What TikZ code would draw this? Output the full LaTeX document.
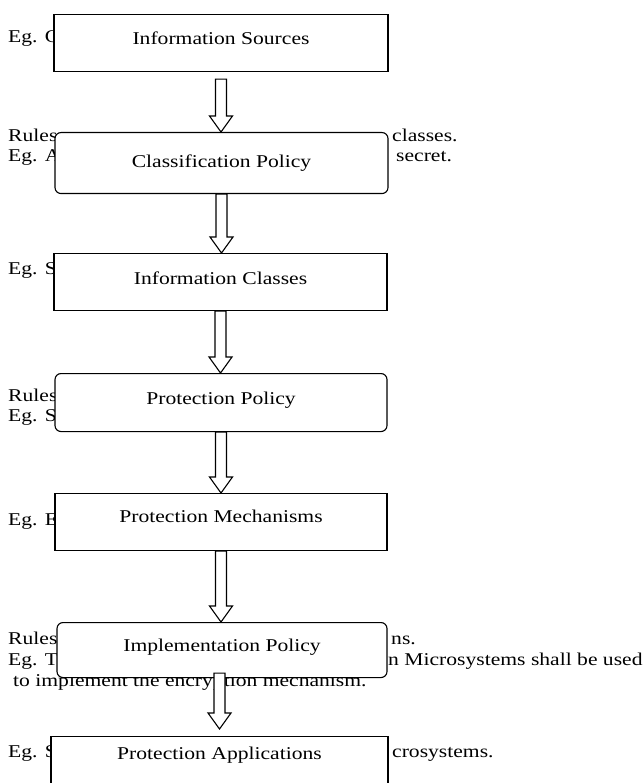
\documentclass[tikz,border=0pt]{standalone}
\usepackage{fontspec}
\setmainfont{Liberation Serif}[FakeStretch=1.2]
\usetikzlibrary{calc}

% hollow block arrow between two named points
\newcommand{\blockarrow}[2]{%
    \draw[arrowbody] let \p1=(#1), \p2=(#2) in
        (\x1-5.5pt,\y1) -- (\x1-5.5pt,\y2+16pt) -- (\x1-11.5pt,\y2+16pt) -- (\x1,\y2)
        -- (\x1+11.5pt,\y2+16pt) -- (\x1+5.5pt,\y2+16pt) -- (\x1+5.5pt,\y1) -- cycle;}

\begin{document}
\begin{tikzpicture}[x=1pt, y=-1pt,
    font=\fontsize{18}{20}\selectfont,
    stagebox/.style={draw, fill=white, line width=1.1pt, inner sep=0pt,
        anchor=north, text height=12.5pt, minimum height=57pt},
    roundbox/.style={stagebox, rounded corners=6pt},
    sidetext/.style={anchor=base west, inner sep=0pt},
    arrowbody/.style={draw, fill=white, line width=1.1pt, line join=miter}]
    \useasboundingbox (0,0) rectangle (644,783);
    \clip (0,0) rectangle (644,783);

    % Text behind the boxes
    \node[sidetext] (egsrc) at (8,43) {Eg. C};
    \node[sidetext] (rulescls) at (8,142) {Rules};
    \node[sidetext] (egcls) at (8,162) {Eg. A};
    \node[sidetext] (classes) at (392,142) {classes.};
    \node[sidetext] (secret) at (396,162) {secret.};
    \node[sidetext] (eginf) at (8,274) {Eg. S};
    \node[sidetext] (rulesprot) at (8,401) {Rules};
    \node[sidetext] (egprot) at (8,421) {Eg. S};
    \node[sidetext] (egmech) at (8,525) {Eg. E};
    \node[sidetext] (rulesimpl) at (8,644) {Rules};
    \node[sidetext] (ons) at (391,644) {ns.};
    \node[sidetext] (egimpl) at (8,665) {Eg. T};
    \node[sidetext] (micro) at (388,665) {n Microsystems shall be used};
    \node[sidetext] (toimpl) at (13,686) {to implement the encryption mechanism.};
    \node[sidetext] (egapp) at (8,757) {Eg. S};
    \node[sidetext] (crosys) at (392,757) {crosystems.};

    % Stages
    \node[stagebox, minimum width=334pt, text depth=9.5pt] (src) at (221,14) {Information Sources};
    \node[roundbox, minimum width=333pt, minimum height=61pt, text depth=3.5pt] (clspol) at (221.5,132) {Classification Policy};
    \node[stagebox, minimum width=333pt, text depth=7.5pt] (infcls) at (220.5,253) {Information Classes};
    \node[roundbox, minimum width=332pt, minimum height=58pt, text depth=8.5pt] (protpol) at (221,373) {Protection Policy};
    \node[stagebox, minimum width=332pt, text depth=11.5pt] (protmech) at (221,493) {Protection Mechanisms};
    \node[roundbox, minimum width=330pt, minimum height=55pt, text depth=10.5pt] (implpol) at (222,622) {Implementation Policy};
    \node[stagebox, minimum width=337pt, minimum height=60pt, text depth=26.5pt] (protapp) at (219.5,736) {Protection Applications};

    % Arrows
    \coordinate (srcout) at ([yshift=-7pt]src.south);
    \coordinate (implout) at ($(implpol.south -| protapp.north)+(0,-5)$);
    \coordinate (appin) at ([yshift=7pt]protapp.north);
    \blockarrow{srcout}{clspol.north}
    \blockarrow{clspol.south}{infcls.north}
    \blockarrow{infcls.south}{protpol.north}
    \blockarrow{protpol.south}{protmech.north}
    \blockarrow{protmech.south}{implpol.north}
    \blockarrow{implout}{appin}
\end{tikzpicture}
\end{document}
